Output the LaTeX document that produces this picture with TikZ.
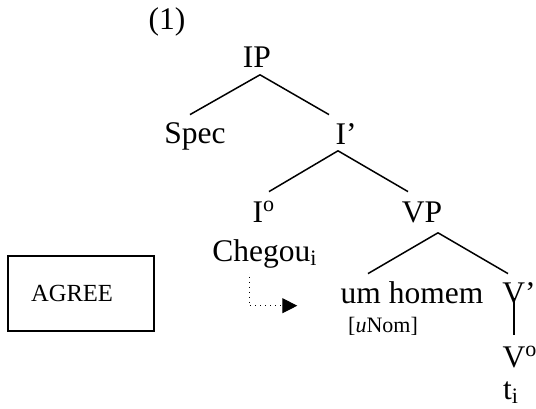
\documentclass[tikz,border=0pt]{standalone}
\usepackage{fontspec}
\setmainfont{Liberation Serif}
\usetikzlibrary{positioning, arrows.meta}

\begin{document}
\begin{tikzpicture}
    [
        x=0.5pt, y=-0.5pt,
        cat_node/.style={anchor=base, inner sep=0pt, text height=0.7em, text depth=0.22em, font=\fontsize{15.75}{19}\selectfont},
        feat_node/.style={anchor=base, inner sep=0pt, font=\fontsize{11}{13}\selectfont},
        box_node/.style={draw=black, line width=1pt, minimum width=72.75pt, minimum height=37.5pt, inner sep=0pt, font=\fontsize{12.3}{14}\selectfont},
        branch/.style={line width=0.75pt, color=black},
    ]
        \useasboundingbox (0,0) rectangle (536,408);
        \node[cat_node] (ex) at (167,29) {(1)} ;
        \node[cat_node] (IP) at (257,67) {IP} ;
        \node[cat_node] (spec) at (195,143) {Spec} ;
        \node[cat_node] (Ibar) at (346,144) {I’} ;
        \node[cat_node] (I0) at (264,222) {I\textsuperscript{o}} ;
        \node[cat_node] (VP) at (422,222) {VP} ;
        \node[cat_node] (verb) at (265,261) {Chegou\textsubscript{i}} ;
        \node[cat_node] (DP) at (412,303) {um homem} ;
        \node[feat_node] (nom) at (383,332) {[\textit{u}Nom]} ;
        \node[cat_node] (Vbar) at (519,303) {V’} ;
        \node[cat_node] (V0) at (520,367) {V\textsuperscript{o}} ;
        \node[cat_node] (trace) at (511,399) {t\textsubscript{i}} ;
        \node[box_node] (agree) at (81,293.5) {AGREE\hspace{9pt}\mbox{}} ;
        \draw[branch] ([shift={(3,3)}]IP.south) to ([shift={(-5,-14)}]spec.north) ;
        \draw[branch] ([shift={(3,3)}]IP.south) to ([shift={(-17,-15)}]Ibar.north) ;
        \draw[branch] ([shift={(-8,2)}]Ibar.south) to ([shift={(5,-16)}]I0.north) ;
        \draw[branch] ([shift={(-8,2)}]Ibar.south) to ([shift={(-14,-16)}]VP.north) ;
        \draw[branch] ([shift={(16,6)}]VP.south) to ([shift={(-44,-15)}]DP.north) ;
        \draw[branch] ([shift={(16,6)}]VP.south) to ([shift={(-11,-15)}]Vbar.north) ;
        \draw[branch] ([shift={(-5,-10)}]Vbar.south) to ([shift={(-6,-18)}]V0.north) ;
        \draw[line width=0.5pt, dotted, -{Triangle[length=7.5pt, width=7.5pt]}] ([shift={(-16,11)}]verb.south) |- ([shift={(-43,7.5)}]DP.west) ;
    \end{tikzpicture}
\end{document}
